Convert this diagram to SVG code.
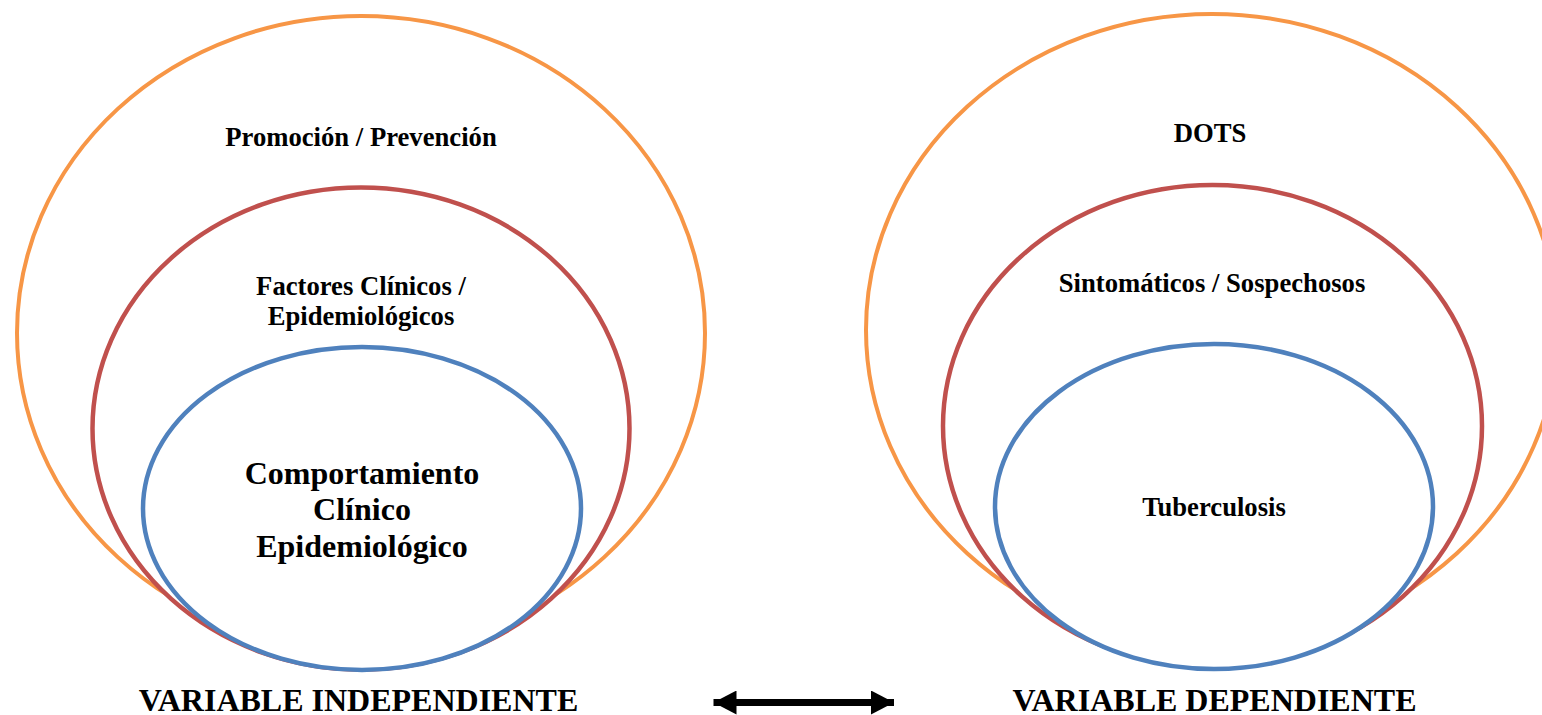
<svg xmlns="http://www.w3.org/2000/svg" width="1542" height="715" viewBox="0 0 1542 715">
  <style>
    .orange { fill: #ffffff; stroke: #F79646; stroke-width: 4; }
    .red { fill: #ffffff; stroke: #C0504D; stroke-width: 4.5; }
    .blue { fill: #ffffff; stroke: #4F81BD; stroke-width: 4.5; }
    text { font-family: "Liberation Serif", "Times New Roman", serif; font-weight: bold; fill: #000000; text-anchor: middle; }
    .t20 { font-size: 26.67px; }
    .t24 { font-size: 32px; }
    .conn { stroke: #000000; stroke-width: 7; fill: none; }
  </style>
  <defs>
    <marker id="head" markerUnits="userSpaceOnUse" viewBox="0 0 23 24" markerWidth="23" markerHeight="24" refX="23" refY="12" orient="auto-start-reverse">
      <path d="M0,0 L23,12 L0,24 Z" fill="#000000"/>
    </marker>
  </defs>
  <rect width="1542" height="715" fill="#ffffff"/>

  <g id="left-outer">
    <ellipse class="orange" cx="361" cy="333" rx="344" ry="317"/>
    <text class="t20" x="361" y="146">Promoción / Prevención</text>
  </g>
  <g id="left-middle">
    <ellipse class="red" cx="361" cy="428.5" rx="268.5" ry="241"/>
    <text class="t20" x="361" y="295">Factores Clínicos /</text>
    <text class="t20" x="361" y="325">Epidemiológicos</text>
  </g>
  <g id="left-inner">
    <ellipse class="blue" cx="362" cy="508.5" rx="219" ry="161.5"/>
    <text class="t24" x="362" y="484">Comportamiento</text>
    <text class="t24" x="362" y="520">Clínico</text>
    <text class="t24" x="362" y="557">Epidemiológico</text>
  </g>
  <g id="label-independiente">
    <text class="t24" x="358.5" y="711">VARIABLE INDEPENDIENTE</text>
  </g>

  <g id="right-outer">
    <ellipse class="orange" cx="1212" cy="330" rx="346" ry="316"/>
    <text class="t20" x="1210" y="142">DOTS</text>
  </g>
  <g id="right-middle">
    <ellipse class="red" cx="1212.5" cy="426" rx="269.5" ry="241"/>
    <text class="t20" x="1212" y="292">Sintomáticos / Sospechosos</text>
  </g>
  <g id="right-inner">
    <ellipse class="blue" cx="1214" cy="506.5" rx="219" ry="162.5"/>
    <text class="t20" x="1214" y="516">Tuberculosis</text>
  </g>
  <g id="label-dependiente">
    <text class="t24" x="1214.5" y="711">VARIABLE DEPENDIENTE</text>
  </g>

  <g id="connectors">
    <line class="conn" x1="713.5" y1="702.5" x2="894" y2="702.5" marker-start="url(#head)" marker-end="url(#head)"/>
  </g>
</svg>
